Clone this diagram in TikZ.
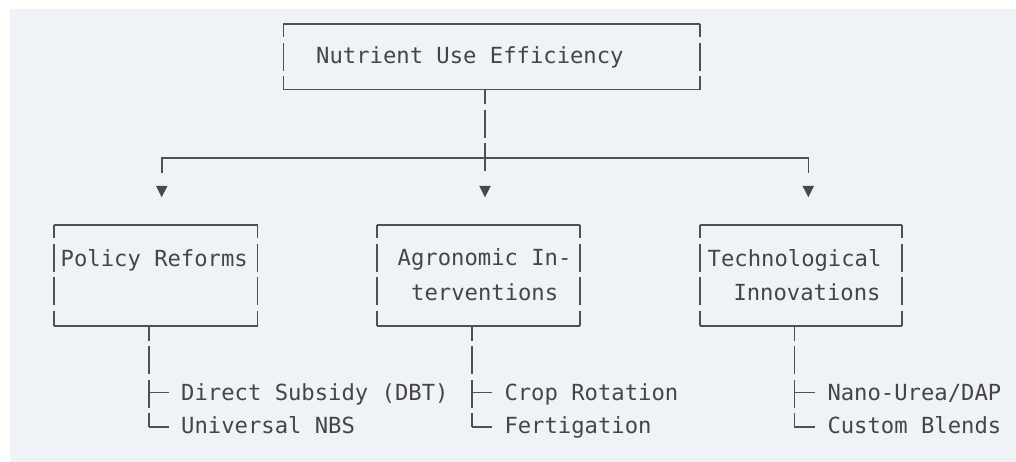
\documentclass[tikz,border=0pt]{standalone}
\usepackage{fontspec}
\newfontfamily\monofont{DejaVu Sans Mono}
\definecolor{panel}{HTML}{EFF2F7}
\definecolor{linegray}{HTML}{505050}
\definecolor{textgray}{HTML}{454545}
\tikzset{
  boxnode/.style={rectangle, inner sep=0pt, draw=none},
  hline/.style={draw=linegray, line width=1.6pt},
  vside/.style={draw=linegray, line width=1.6pt, dash pattern=on 28pt off 5.5pt, dash phase=14.5pt},
  vstem/.style={draw=linegray, line width=1.6pt, dash pattern=on 28pt off 5.5pt, dash phase=13.5pt},
  txt/.style={font=\monofont\fontsize{22.2}{26}\selectfont, text=textgray, inner sep=0pt, anchor=base west},
  tip/.style={fill=linegray!90!black}
}
\begin{document}
\begin{tikzpicture}[x=1pt,y=-1pt]
\useasboundingbox (0,0) rectangle (1016,462);
\fill[white] (0,0) rectangle (1016,462);
\fill[panel] (10,9) rectangle (1016,462);

% boxes
\node[boxnode, minimum width=416.5pt, minimum height=65.5pt] (top) at (491.75,56.75) {};
\node[boxnode, minimum width=203pt, minimum height=101pt] (A) at (155.8,275.5) {};
\node[boxnode, minimum width=202.5pt, minimum height=101pt] (B) at (478.5,275.5) {};
\node[boxnode, minimum width=202pt, minimum height=101pt] (C) at (800.9,275.5) {};
\foreach \b in {top,A,B,C}{
  \draw[hline] (\b.north west) -- (\b.north east);
  \draw[hline] (\b.south west) -- (\b.south east);
  \draw[vside] (\b.north west) -- (\b.south west);
  \draw[vside] (\b.north east) -- (\b.south east);
}

% texts
\node[txt] (tTop) at (316,63.3) {Nutrient Use Efficiency};
\node[txt] (tA) at (60.5,266) {Policy Reforms};
\node[txt] (tB1) at (397.5,265.7) {Agronomic In-};
\node[txt] (tB2) at (411,300) {terventions};
\node[txt] (tC1) at (707.5,266) {Technological};
\node[txt] (tC2) at (733.3,300) {Innovations};
\node[txt] (lA1) at (181,400.7) {Direct Subsidy (DBT)};
\node[txt] (lA2) at (181,433.3) {Universal NBS};
\node[txt] (lB1) at (504.3,400.7) {Crop Rotation};
\node[txt] (lB2) at (504.3,433.3) {Fertigation};
\node[txt] (lC1) at (827.3,400.7) {Nano-Urea/DAP};
\node[txt] (lC2) at (827.3,433.3) {Custom Blends};

% distribution from the top box
\coordinate (hubL) at (161.7,158);
\coordinate (hubM) at (485,158);
\coordinate (hubR) at (808.3,158);
\draw[vstem] (top.south -| hubM) -- ([yshift=-14pt]hubM);
\draw[hline] ([yshift=-15pt]hubL) -- (hubL) -- (hubR) -- ([yshift=-15pt]hubR);
\foreach \x in {161.7,485,808.3}{
  \fill[tip] (\x-5.8,185.8) -- (\x+5.8,185.8) -- (\x,197.3) -- cycle;
}

% trees below the boxes
\coordinate (sA) at (148.7,392.5);
\coordinate (sB) at (471.7,392.5);
\coordinate (sC) at (794.3,392.5);
\foreach \s/\b in {sA/A,sB/B,sC/C}{
  \draw[vstem] (\b.south -| \s) -- ([yshift=-34.5pt]\s);
  \draw[hline] (\s) -- ++(20.6,0);
  \draw[hline] ([yshift=-34.5pt]\s) -- ++(20.6,0);
}
\end{tikzpicture}
\end{document}
